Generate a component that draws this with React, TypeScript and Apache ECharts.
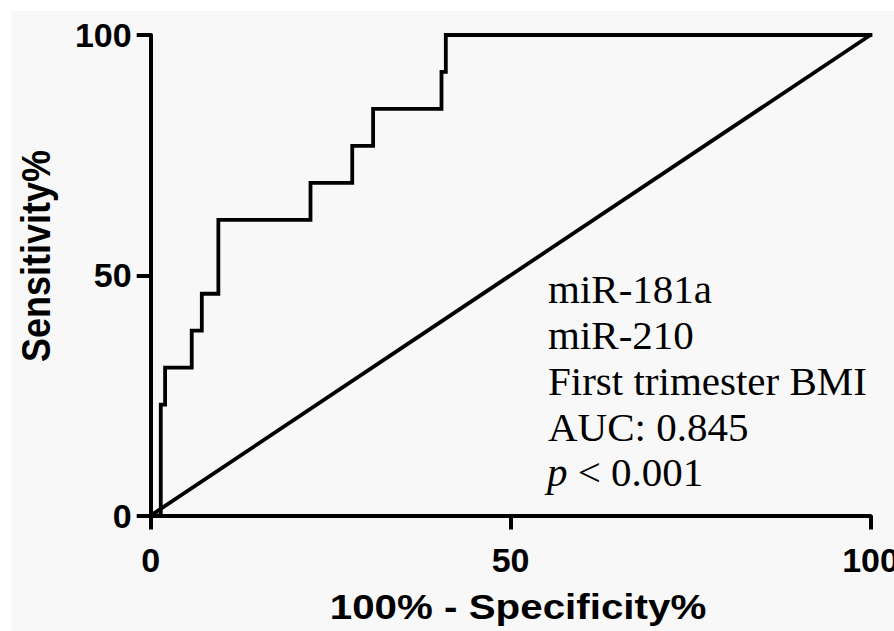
import { useEffect, useRef } from 'react';
import * as echarts from 'echarts';

const xTicks = [0, 50, 100];
const yTicks = [0, 50, 100];
const rocFpr = [0, 1.4, 2.0, 5.7, 7.1, 9.4, 22.2, 28.0, 30.9, 40.4, 41.0, 100];
const rocSens = [0, 23.08, 30.77, 38.46, 46.15, 61.54, 69.23, 76.92, 84.62, 92.31, 100, 100];
const refX = [0, 100];
const refY = [0, 100];
const annotationLines = ['miR-181a', 'miR-210', 'First trimester BMI', 'AUC: 0.845'];
const pText = '{i|p} < 0.001';
const xTitle = '100% - Specificity%';
const yTitle = 'Sensitivity%';

export default function App() {
  const ref = useRef<HTMLDivElement>(null);
  useEffect(() => {
    if (!ref.current) return;
    const chart = echarts.init(ref.current, undefined, { renderer: 'svg' });
    const sans = 'Liberation Sans, Arial, sans-serif';
    const serif = 'Liberation Serif, Times New Roman, serif';
    const baselines = [303, 349, 395, 441, 486];
    const annFont = 41;
    const graphic: any[] = [
      {
        type: 'rect',
        z: -10,
        silent: true,
        shape: { x: 11, y: 11, width: 883, height: 620 },
        style: { fill: '#f8f8f8' },
      },
      {
        type: 'text',
        x: 518,
        y: 606.5,
        scaleX: 1.12,
        style: {
          text: xTitle,
          font: `bold 36px ${sans}`,
          fill: '#000',
          align: 'center',
          verticalAlign: 'middle',
        },
      },
      {
        type: 'text',
        x: 36,
        y: 256,
        rotation: Math.PI / 2,
        scaleY: 1.12,
        style: {
          text: yTitle,
          font: `bold 36px ${sans}`,
          fill: '#000',
          align: 'center',
          verticalAlign: 'middle',
        },
      },
    ];
    annotationLines.forEach((t, i) => {
      graphic.push({
        type: 'text',
        x: 548,
        y: baselines[i] - 0.3375 * annFont,
        style: {
          text: t,
          font: `${annFont}px ${serif}`,
          fill: '#000',
          align: 'left',
          verticalAlign: 'middle',
        },
      });
    });
    graphic.push({
      type: 'text',
      x: 547,
      y: baselines[4] - 0.3375 * annFont,
      style: {
        text: pText,
        fontSize: annFont,
        fontFamily: serif,
        fill: '#000',
        align: 'left',
        verticalAlign: 'middle',
        rich: {
          i: { fontStyle: 'italic', fontSize: annFont, fontFamily: serif, fill: '#000' },
        },
      },
    });

    const axisCommon = {
      type: 'value' as const,
      min: xTicks[0],
      max: xTicks[xTicks.length - 1],
      interval: xTicks[1] - xTicks[0],
      splitLine: { show: false },
      axisLine: { show: true, lineStyle: { color: '#000', width: 4 } },
      axisTick: { show: true, length: 14, lineStyle: { color: '#000', width: 4 } },
    };

    chart.setOption({
      animation: false,
      backgroundColor: '#ffffff',
      grid: {
        left: 150.7,
        right: 23.5,
        top: 35,
        bottom: 115.5,
        containLabel: false,
        outerBoundsMode: 'none',
      },
      xAxis: {
        ...axisCommon,
        axisLabel: {
          color: '#000',
          fontSize: 34,
          fontWeight: 'bold',
          fontFamily: sans,
          margin: 27,
          showMinLabel: true,
          showMaxLabel: true,
        },
      },
      yAxis: {
        ...axisCommon,
        min: yTicks[0],
        max: yTicks[yTicks.length - 1],
        interval: yTicks[1] - yTicks[0],
        axisLabel: {
          color: '#000',
          fontSize: 34,
          fontWeight: 'bold',
          fontFamily: sans,
          margin: 19,
          showMinLabel: true,
          showMaxLabel: true,
        },
      },
      graphic,
      series: [
        {
          type: 'line',
          data: refX.map((x, i) => [x, refY[i]]),
          symbol: 'none',
          clip: false,
          lineStyle: { color: '#000', width: 3.8 },
          z: 3,
        },
        {
          type: 'line',
          data: rocFpr.map((x, i) => [x, rocSens[i]]),
          step: 'end',
          symbol: 'none',
          clip: false,
          lineStyle: { color: '#000', width: 3.8, join: 'miter', cap: 'square' },
          z: 4,
        },
      ],
    });
    return () => chart.dispose();
  }, []);
  return <div ref={ref} style={{ position: 'fixed', left: 0, top: 0, width: 894, height: 631 }} />;
}
